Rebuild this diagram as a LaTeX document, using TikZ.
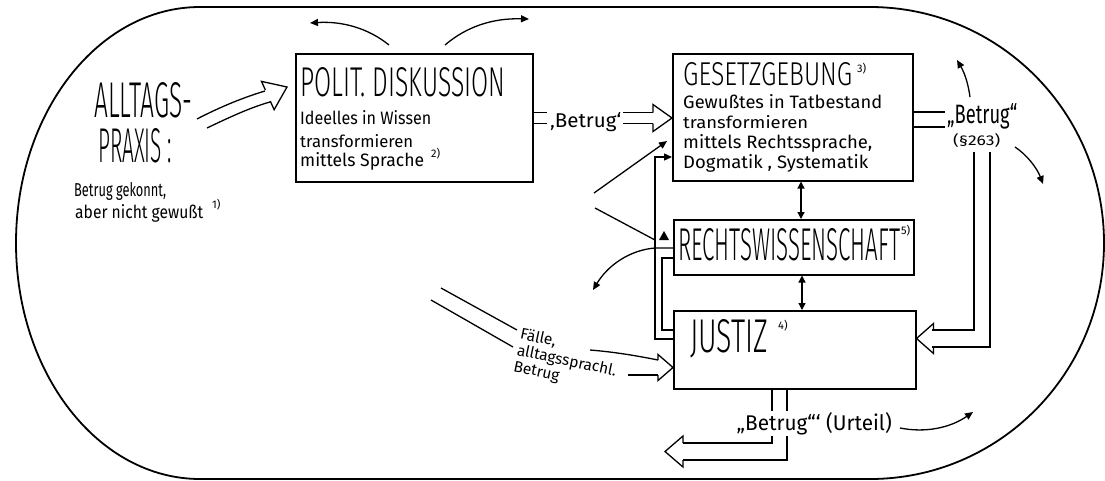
\documentclass[tikz,border=0pt]{standalone}
\usepackage{fontspec}
\usepackage{graphicx}
\setmainfont{Fira Sans}
\newfontfamily\titlefont{Fira Sans Light}
\newfontfamily\handfont{Fira Sans}
\usetikzlibrary{arrows.meta}
\newcommand\ttl[3]{\resizebox{#1pt}{#2pt}{\titlefont #3}}
\newcommand\hw[3]{\resizebox{#1pt}{#2pt}{\handfont #3}}
\newcommand\sups[1]{{\handfont\fontsize{11}{11}\selectfont #1}}
\begin{document}
\begin{tikzpicture}[x=1pt,y=-1pt,
  box/.style={draw, line width=1.5pt, inner sep=0pt, anchor=north west},
  txt/.style={inner sep=0pt, anchor=base west},
  thinln/.style={line width=1.3pt},
  tipa/.style={-{Triangle[length=8pt,width=7pt]}},
  dtip/.style={{Triangle[length=7pt,width=7pt]}-{Triangle[length=7pt,width=7pt]}},
  hl/.style={line width=1.3pt, line join=miter},
  pics/hhead/.style n args={3}{code={\draw[hl] (-#1,-#3) -- (-#1,-#2) -- (0,0) -- (-#1,#2) -- (-#1,#3);}}
]
\useasboundingbox (0,0) rectangle (1105,480);
\fill[white] (0,0) rectangle (1105,480);

% outer stadium
\draw[line width=1.8pt] (200,7) -- (870,7)
  arc[start angle=-90, end angle=90, x radius=234, y radius=236] -- (200,479)
  arc[start angle=90, end angle=270, x radius=184, y radius=236] -- cycle;

% boxes
\node[box, minimum width=237pt, minimum height=128pt] (polit) at (295,53) {};
\node[box, minimum width=240pt, minimum height=127pt] (gesetz) at (672,53) {};
\node[box, minimum width=240pt, minimum height=55pt] (rechts) at (673,219) {};
\node[box, minimum width=242pt, minimum height=78pt] (justiz) at (673,310) {};

% Alltagspraxis
\node[txt] (alltags) at (94,117) {\ttl{98}{35}{ALLTAGS-}};
\node[txt] (praxis) at (98,162) {\ttl{74}{34}{PRAXIS :}};
\node[txt] (bg1) at (74,196) {\hw{92}{14}{Betrug gekonnt,}};
\node[txt] (bg2) at (75,218) {\hw{128}{14}{aber nicht gewußt}};
\node[txt] (n1) at (212,208) {\sups{1)}};

% Polit box text
\node[txt] (poltitle) at (300,96) {\ttl{205}{29}{POLIT. DISKUSSION}};
\node[txt] (p1) at (300,124) {\hw{131}{14}{Ideelles in Wissen}};
\node[txt] (p2) at (300,147) {\hw{113}{13}{transformieren}};
\node[txt] (p3) at (300,166) {\hw{124}{14}{mittels Sprache}};
\node[txt] (n2) at (431,157) {\sups{2)}};

% Gesetz box text
\node[txt] (gestitle) at (683,85) {\ttl{169}{23}{GESETZGEBUNG}};
\node[txt] (n3) at (857,72) {\sups{3)}};
\node[txt] (g1) at (683,108) {\hw{199}{14}{Gewußtes in Tatbestand}};
\node[txt] (g2) at (683,128) {\hw{125}{13}{transformieren}};
\node[txt] (g3) at (683,148) {\hw{189}{14}{mittels Rechtssprache,}};
\node[txt] (g4) at (683,168) {\hw{185}{14}{Dogmatik , Systematik}};

% Rechts / Justiz text
\node[txt] (rtitle) at (678,260) {\ttl{222}{32}{RECHTSWISSENSCHAFT}};
\node[txt] (n5) at (901,234) {\sups{5)}};
\node[txt] (jtitle) at (690,352) {\ttl{78}{33}{JUSTIZ}};
\node[txt] (n4) at (778,329) {\sups{4)}};

% labels
\node[txt] (lb1) at (550,127) {\hw{71}{15}{‚Betrug‘}};
\node[txt] (lb2) at (947,123) {\hw{70}{20}{„Betrug“}};
\node[txt] (lb3) at (953,145) {\hw{47}{12}{(§263)}};

% Alltags -> Polit hollow arrow
\draw[hl] (197,119) .. controls (222,106) and (245,97) .. (265,91);
\draw[hl] (207,128) .. controls (232,116) and (252,107) .. (270,102);
\pic[rotate=24] at (287,87) {hhead={21}{15.5}{6}};

% Polit -> Gesetz
\draw[hl] (polit.east |- 0,112.5) -- (547,112.5);
\draw[hl] (polit.east |- 0,123.5) -- (547,123.5);
\draw[hl] (623,112.5) -- (653,112.5);
\draw[hl] (623,123.5) -- (653,123.5);
\pic at (gesetz.west |- 0,118) {hhead={19}{13.5}{5.5}};

% Gesetz -> Betrug (263) -> Justiz
\draw[hl] (gesetz.east |- 0,112) -- (945,112);
\draw[hl] (gesetz.east |- 0,127) -- (945,127);
\draw[hl] (974,152) -- (974,330) -- (932,330);
\draw[hl] (990,152) -- (990,347) -- (932,347);
\pic[rotate=180] at (justiz.east |- 0,338.5) {hhead={17}{15}{8.5}};

% Justiz -> Urteil
\draw[hl] (justiz.south -| 772,0) -- (772,443) -- (683,443);
\draw[hl] (justiz.south -| 787,0) -- (787,460) -- (683,460);
\pic[rotate=180] at (665,451.5) {hhead={18}{15.5}{8.5}};
\node[txt, fill=white, inner sep=1.5pt] (lb4) at (735,430) {\hw{155}{18}{„Betrug“‘ (Urteil)}};

% Faelle -> Justiz
\draw[hl] (441,288) -- (517,330);
\draw[hl] (431,300) -- (513,347);
\draw[hl] (590,350) .. controls (615,352) and (638,356) .. (658,360);
\draw[hl] (628,375) -- (658,375);
\pic at (justiz.west |- 0,367.5) {hhead={15}{13}{7.5}};
\node[inner sep=0pt, anchor=north west, rotate=-12, align=left, font=\handfont\fontsize{15.5}{16.5}\selectfont] (faelle) at (522,327) {Fälle,\\alltagssprachl.\\Betrug};

% thin connectors
\draw[thinln, tipa] (594,193) -- (667,141);
\draw[thinln] (595,208) -- (655,240);
\fill (659,240) -- (669,240) -- (664,231) -- cycle;
\draw[thinln, tipa] (justiz.west |- 0,339) -- (655,339) -- (655,157) -- (gesetz.west |- 0,157);
\draw[thinln] (rechts.west |- 0,258) -- (662,258) -- (662,330) -- (justiz.west |- 0,330);
\draw[thinln, tipa] (rechts.west |- 0,248) -- (655,248) .. controls (630,250) and (608,265) .. (593,290);

\draw[thinln, dtip] (gesetz.south -| 801,0) -- (rechts.north -| 801,0);
\draw[thinln, dtip] (rechts.south -| 802,0) -- (justiz.north -| 802,0);

% free curved arrows
\draw[thinln, tipa] (389,45) .. controls (368,28) and (342,21) .. (310,23);
\draw[thinln, tipa] (445,45) .. controls (466,27) and (492,18) .. (529,19);
\draw[thinln, tipa] (970,97) .. controls (968,82) and (964,72) .. (957,60);
\draw[thinln, tipa] (1015,147) .. controls (1027,155) and (1037,168) .. (1043,184);
\draw[thinln, tipa] (900,428) .. controls (925,433) and (950,428) .. (973,412);
\end{tikzpicture}
\end{document}
